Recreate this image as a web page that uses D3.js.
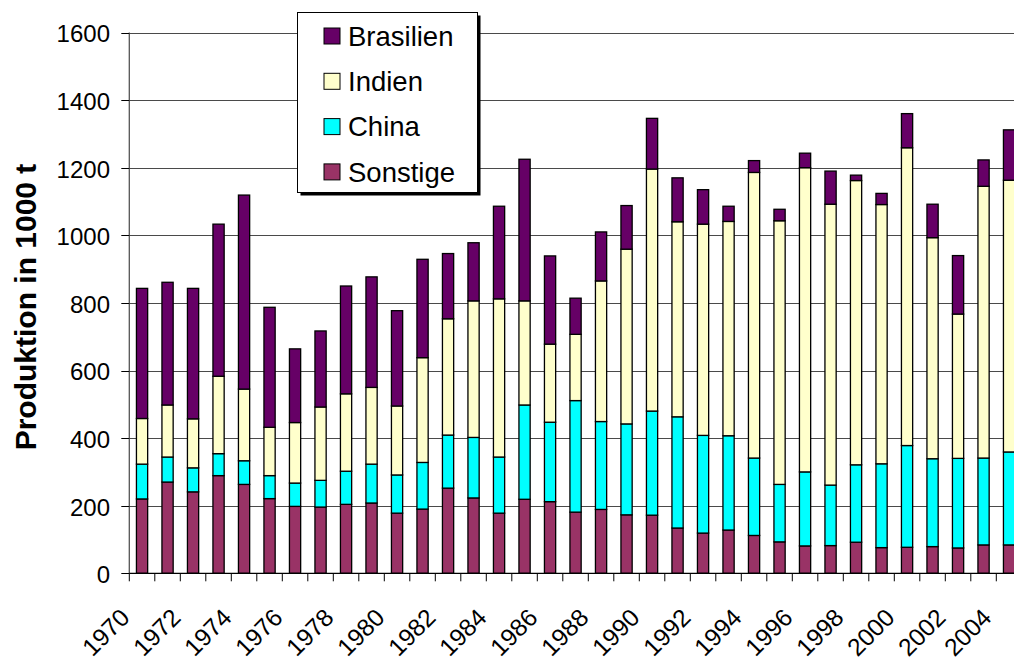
<!DOCTYPE html>
<html>
<head>
<meta charset="utf-8">
<script src="https://cdn.jsdelivr.net/npm/d3@7"></script>
<style>
  html, body { margin: 0; padding: 0; background: #fff; }
  svg { display: block; font-family: "Liberation Sans", Arial, sans-serif; }
</style>
</head>
<body>
<svg id="chart" width="1014" height="660"></svg>
<script>
const years = d3.range(1970, 2005).map(String);
const seriesNames = ["Sonstige", "China", "Indien", "Brasilien"];
const sonstige = [220,270,241,289,263,221,198,196,204,208,178,190,252,223,178,219,212,181,189,173,172,134,119,128,112,93,81,82,92,76,77,79,75,84,84];
const china = [103,74,71,65,70,68,69,79,98,115,113,138,157,179,166,279,235,330,260,269,308,329,289,279,229,170,219,179,229,248,301,260,265,257,275];
const indien = [135,154,145,229,212,143,179,217,229,227,204,310,344,404,468,308,231,196,416,517,716,577,625,634,845,780,900,831,841,767,881,654,427,804,804];
const brasilien = [385,363,386,450,574,355,218,225,319,327,282,291,193,172,274,419,261,107,145,129,150,130,102,45,35,34,43,98,16,33,101,99,173,78,149];
const yTicks = [0,200,400,600,800,1000,1200,1400,1600];
const xTickLabels = years.filter((yr, i) => i % 2 === 0);
const colors = { Brasilien: "#660066", Indien: "#FFFFCC", China: "#00FFFF", Sonstige: "#993366" };
const legendOrder = ["Brasilien", "Indien", "China", "Sonstige"];

(function () {
const table = years.map((yr, i) => ({
  year: yr, Sonstige: sonstige[i], China: china[i], Indien: indien[i], Brasilien: brasilien[i]
}));

const svg = d3.select("#chart");
const pLeft = 129.3, pRight = 1021.8, pBottom = 573.3, pTop = 32.5;

const x = d3.scaleBand().domain(years).range([pLeft, pRight]).paddingInner(0.56).paddingOuter(0.28);
const y = d3.scaleLinear().domain([0, 1600]).range([pBottom, pTop]);

// gridlines
svg.append("g").selectAll("line").data(yTicks.filter(t => t > 0)).join("line")
  .attr("x1", pLeft).attr("x2", pRight)
  .attr("y1", d => Math.round(y(d)) + 0.5).attr("y2", d => Math.round(y(d)) + 0.5)
  .attr("stroke", "#4a4a4a").attr("stroke-width", 1);

// bars
const stack = d3.stack().keys(seriesNames)(table);
svg.append("g").selectAll("g").data(stack).join("g")
  .attr("fill", d => colors[d.key])
  .selectAll("rect").data(d => d).join("rect")
  .attr("x", d => x(d.data.year))
  .attr("width", x.bandwidth())
  .attr("y", d => y(d[1]))
  .attr("height", d => y(d[0]) - y(d[1]))
  .attr("stroke", "#000").attr("stroke-width", 1.3);

// y axis
const yAxis = svg.append("g");
yAxis.append("line").attr("x1", pLeft).attr("x2", pLeft).attr("y1", pTop).attr("y2", pBottom)
  .attr("stroke", "#555").attr("stroke-width", 1.3);
yAxis.selectAll("line.tick").data(yTicks).join("line").attr("class", "tick")
  .attr("x1", pLeft - 8).attr("x2", pLeft)
  .attr("y1", d => Math.round(y(d)) + 0.5).attr("y2", d => Math.round(y(d)) + 0.5)
  .attr("stroke", "#000");
yAxis.selectAll("text").data(yTicks).join("text")
  .attr("x", 110).attr("y", d => y(d) + 1.5).attr("dy", "0.35em")
  .attr("text-anchor", "end").attr("font-size", 24).attr("fill", "#000")
  .text(d => d);

// x axis
const step = x.step();
const bounds = d3.range(0, years.length + 1).map(i => pLeft + i * step);
const xAxis = svg.append("g");
xAxis.append("line").attr("x1", pLeft).attr("x2", pRight).attr("y1", pBottom).attr("y2", pBottom)
  .attr("stroke", "#000").attr("stroke-width", 1.3);
xAxis.selectAll("line.tick").data(bounds).join("line").attr("class", "tick")
  .attr("x1", d => d).attr("x2", d => d).attr("y1", pBottom).attr("y2", pBottom + 8)
  .attr("stroke", "#000");
xAxis.selectAll("text").data(xTickLabels).join("text")
  .attr("transform", d => {
    const cx = Math.min(x(d) + x.bandwidth() / 2 - 11, 993);
    return `translate(${cx},619) rotate(-45)`;
  })
  .attr("text-anchor", "end").attr("font-size", 24.5).attr("fill", "#000")
  .text(d => d);

// y title
svg.append("text")
  .attr("transform", "translate(36,307) rotate(-90)")
  .attr("text-anchor", "middle").attr("font-size", 30).attr("font-weight", "bold")
  .text("Produktion in 1000 t");

// legend
const lg = svg.append("g");
lg.append("rect").attr("x", 300.5).attr("y", 15.5).attr("width", 180).attr("height", 180).attr("fill", "#000");
lg.append("rect").attr("x", 297.5).attr("y", 12.5).attr("width", 180).attr("height", 180)
  .attr("fill", "#fff").attr("stroke", "#000").attr("stroke-width", 1);
const rows = lg.selectAll("g.row").data(legendOrder).join("g").attr("class", "row")
  .attr("transform", (d, i) => `translate(0, ${36 + i * 45.3})`);
rows.append("rect").attr("x", 324).attr("y", -8).attr("width", 16).attr("height", 16)
  .attr("fill", d => colors[d]).attr("stroke", "#000").attr("stroke-width", 1);
rows.append("text").attr("x", 348).attr("y", 0).attr("dy", "0.35em")
  .attr("font-size", 27.5).attr("fill", "#000").text(d => d);
})();
</script>
</body>
</html>
